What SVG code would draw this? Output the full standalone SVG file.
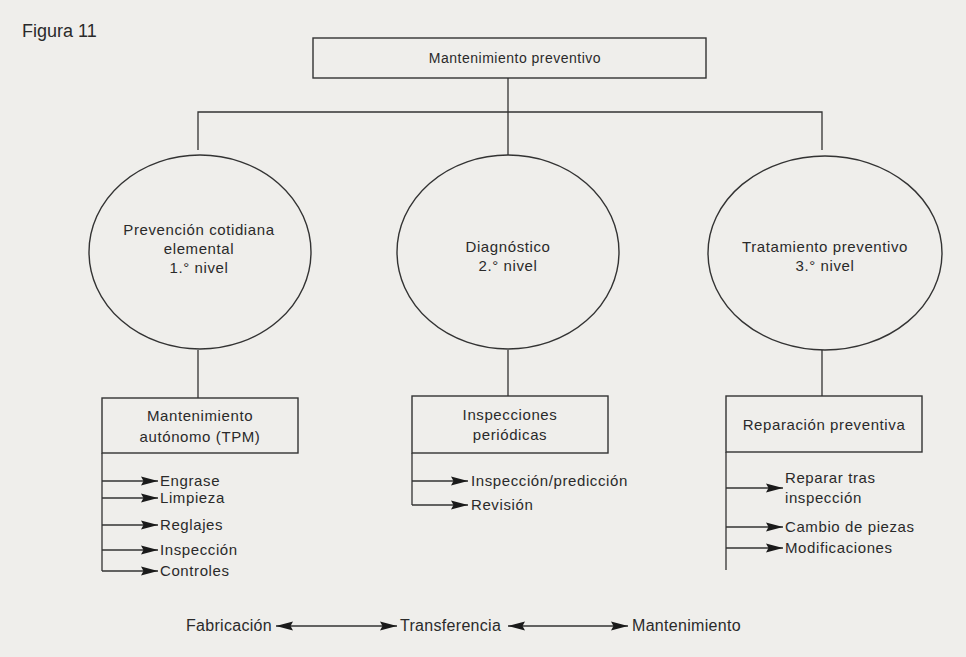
<svg xmlns="http://www.w3.org/2000/svg" width="966" height="657" viewBox="0 0 966 657">
<defs>
<style>
text{font-family:"Liberation Sans",Arial,sans-serif;font-size:15px;letter-spacing:0.6px;fill:#2a2a2a}
.c{text-anchor:middle}
.t{font-size:14px;letter-spacing:0.5px}
.b{font-size:16px;letter-spacing:0.3px}
.s{fill:none;stroke:#333;stroke-width:1.3}
.box{fill:none;stroke:#333;stroke-width:1.4}
</style>
<marker id="ah" viewBox="0 0 17 10" refX="17" refY="5" markerWidth="17" markerHeight="10" markerUnits="userSpaceOnUse" orient="auto-start-reverse">
<path d="M0,0.5 L17,5 L0,9.5 L2.5,5 Z" fill="#1a1a1a"/>
</marker>
</defs>
<rect width="966" height="657" fill="#efeeeb"/>
<text x="22" y="37" style="font-size:18px;letter-spacing:0">Figura 11</text>

<g id="connectors" class="s">
<path d="M508,78 V112 M198,150 V112 H822 V150 M508,112 V155"/>
<path d="M198,350 V398 M508,350 V396 M822,350 V396"/>
<path d="M102,453 V571 M412,453 V505 M726,452 V570"/>
<g marker-end="url(#ah)">
<path d="M102,481 H158"/>
<path d="M102,498 H158"/>
<path d="M102,525 H158"/>
<path d="M102,550 H158"/>
<path d="M102,571 H158"/>
<path d="M412,481 H468"/>
<path d="M412,505 H468"/>
<path d="M726,488 H783"/>
<path d="M726,527 H783"/>
<path d="M726,548 H783"/>
</g>
<path d="M276,626 H397" marker-start="url(#ah)" marker-end="url(#ah)"/>
<path d="M508,626 H628" marker-start="url(#ah)" marker-end="url(#ah)"/>
</g>

<g id="n-top"><rect class="box" x="313" y="38" width="393" height="40"/><text class="c t" x="515" y="63">Mantenimiento preventivo</text></g>

<g id="n-e1"><ellipse class="box" cx="200" cy="252" rx="111" ry="97"/>
<text class="c" x="199" y="235">Prevención cotidiana</text><text class="c" x="199" y="254">elemental</text><text class="c" x="199" y="273">1.° nivel</text></g>
<g id="n-e2"><ellipse class="box" cx="508" cy="252" rx="111" ry="97"/>
<text class="c" x="508" y="252">Diagnóstico</text><text class="c" x="508" y="271">2.° nivel</text></g>
<g id="n-e3"><ellipse class="box" cx="825" cy="253" rx="117" ry="97"/>
<text class="c" x="825" y="252">Tratamiento preventivo</text><text class="c" x="825" y="271">3.° nivel</text></g>

<g id="n-b1"><rect class="box" x="102" y="398" width="196" height="55"/>
<text class="c" x="200" y="421">Mantenimiento</text><text class="c" x="200" y="442">autónomo (TPM)</text></g>
<g id="n-b2"><rect class="box" x="412" y="396" width="196" height="57"/>
<text class="c" x="510" y="420">Inspecciones</text><text class="c" x="510" y="440">periódicas</text></g>
<g id="n-b3"><rect class="box" x="726" y="396" width="196" height="56"/>
<text class="c" x="824" y="430">Reparación preventiva</text></g>

<g id="items">
<text x="160" y="486">Engrase</text>
<text x="160" y="503">Limpieza</text>
<text x="160" y="530">Reglajes</text>
<text x="160" y="555">Inspección</text>
<text x="160" y="576">Controles</text>
<text x="471" y="486">Inspección/predicción</text>
<text x="471" y="510">Revisión</text>
<text x="785" y="483">Reparar tras</text>
<text x="785" y="503">inspección</text>
<text x="785" y="532">Cambio de piezas</text>
<text x="785" y="553">Modificaciones</text>
</g>

<g id="bottom">
<text class="b" x="186" y="631">Fabricación</text>
<text class="b" x="400" y="631">Transferencia</text>
<text class="b" x="632" y="631">Mantenimiento</text>
</g>
</svg>
